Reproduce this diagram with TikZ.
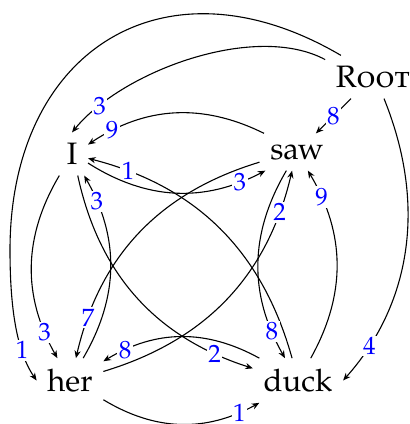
\documentclass[tikz,border=0pt]{standalone}
\usepackage[T1]{fontenc}
\usepackage[sc]{mathpazo}
\usetikzlibrary{arrows.meta}
\begin{document}
\begin{tikzpicture}[x=0.5pt,y=0.5pt,
  word/.style={font=\fontsize{15.5}{18}\selectfont, inner sep=5.2pt},
  arr/.style={line width=0.55pt, -{Stealth[length=3.8pt,width=3.1pt]}},
  lab/.style={font=\fontsize{12.5}{14}\selectfont, text=blue, fill=white, inner sep=0.8pt}]
\useasboundingbox (0,0) rectangle (409,-424);
\node[word] (root) at (373,-77) {\textsc{Root}};
\node[word] (I) at (72,-154) {I};
\node[word] (saw) at (297,-152) {saw};
\node[word] (her) at (70,-380.5) {her};
\node[word] (duck) at (298,-380.5) {duck};
\coordinate (wp) at (10,-250);
% Root edges
\draw[arr] (root) -- node[lab,pos=.5]{8} (saw);
\draw[arr] (root.160) .. controls (255,-22) and (122,-71) .. (I.north) node[lab,pos=.85]{3};
\draw[arr] (root.146) .. controls (165,48) and (10,-50) .. (wp) .. controls (10,-300) and (14.8,-348.8) .. (her.west) node[lab,pos=.72]{1};
\draw[arr] (root.-63) .. controls (428.6,-208.6) and (408.5,-307.2) .. (duck.east) node[lab,pos=.85]{4};
% word edges
\draw[arr] (saw) to[bend right] node[lab,pos=.86]{9} (I);
\draw[arr] (duck) to[bend right] node[lab,pos=.87]{1} (I);
\draw[arr] (her) to[bend right] node[lab,pos=.86]{3} (I);
\draw[arr] (I) to[bend right] node[lab,pos=.86]{3} (saw);
\draw[arr] (her) to[bend right] node[lab,pos=.86]{2} (saw);
\draw[arr] (duck) to[bend right] node[lab,pos=.86]{9} (saw);
\draw[arr] (I) to[bend right] node[lab,pos=.86]{3} (her);
\draw[arr] (saw) to[bend right] node[lab,pos=.86]{7} (her);
\draw[arr] (duck) to[bend right] node[lab,pos=.86]{8} (her);
\draw[arr] (I) to[bend right] node[lab,pos=.86]{2} (duck);
\draw[arr] (saw) to[bend right] node[lab,pos=.86]{8} (duck);
\draw[arr] (her) to[bend right] node[lab,pos=.875]{1} (duck);
\end{tikzpicture}
\end{document}
